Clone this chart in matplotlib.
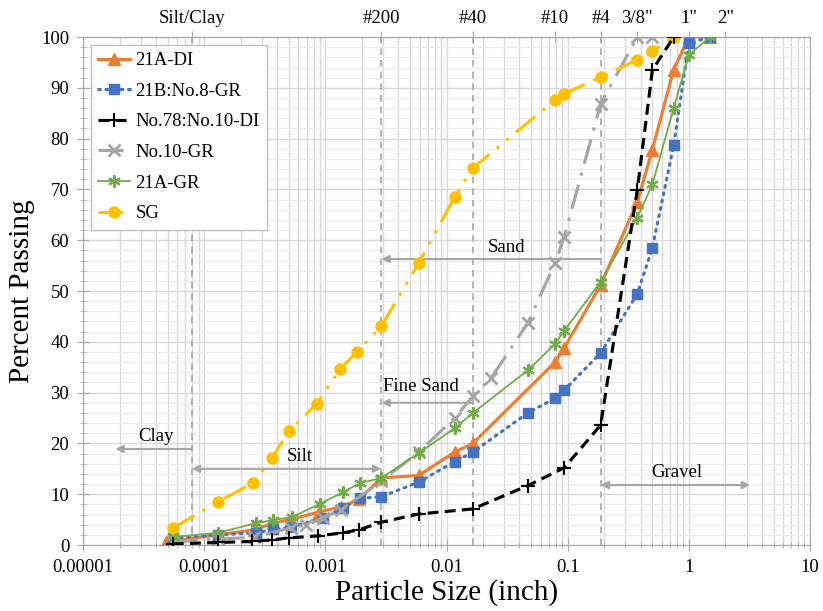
import numpy as np
import matplotlib
matplotlib.use("Agg")
import matplotlib.pyplot as plt

plt.rcParams['font.family'] = ['Liberation Serif', 'DejaVu Serif']

# gradation data: particle size (inch) vs percent passing
size_21a_di = [4.8e-5, 1.3e-4, 2.6e-4, 3.7e-4, 5.2e-4, 8.8e-4, 1.35e-3, 1.9e-3,
               0.0029, 0.0059, 0.0117, 0.0165, 0.0787, 0.0937, 0.187, 0.375, 0.5, 0.75, 1.0, 1.5]
pass_21a_di = [0.6, 2.0, 3.0, 4.3, 5.0, 6.5, 7.5, 9.0,
               13.2, 13.7, 18.3, 20.0, 36.0, 38.8, 51.2, 67.5, 77.8, 93.6, 100, 100]

size_21b = [5.5e-5, 1.3e-4, 2.7e-4, 3.7e-4, 5.2e-4, 9.5e-4, 1.4e-3, 1.95e-3,
            0.0029, 0.0059, 0.0117, 0.0165, 0.0469, 0.0787, 0.0937, 0.187, 0.375, 0.5, 0.75, 1.0, 1.5]
pass_21b = [1.4, 2.0, 2.4, 3.1, 3.5, 5.3, 7.3, 9.2,
            9.5, 12.4, 16.4, 18.3, 26.0, 28.9, 30.5, 37.8, 49.4, 58.5, 78.7, 98.8, 100]

size_no78 = [5.5e-5, 1.3e-4, 2.5e-4, 3.6e-4, 5.0e-4, 8.7e-4, 1.4e-3, 1.9e-3,
             0.0029, 0.0059, 0.0165, 0.0469, 0.0937, 0.187, 0.375, 0.5, 0.75]
pass_no78 = [0.2, 0.5, 0.7, 1.0, 1.4, 1.8, 2.4, 3.0,
             4.5, 6.1, 7.1, 11.7, 15.2, 23.6, 69.8, 93.5, 100]

size_no10 = [5.5e-5, 1.3e-4, 2.6e-4, 5.2e-4, 6.9e-4, 9.5e-4, 1.35e-3,
             0.0029, 0.0059, 0.0117, 0.0165, 0.0234, 0.0469, 0.0787, 0.0937, 0.187, 0.375, 0.5]
pass_no10 = [0.6, 1.2, 1.5, 3.4, 3.9, 5.3, 6.9,
             12.6, 18.3, 25.0, 29.3, 32.9, 43.7, 55.5, 60.7, 86.8, 100, 100]

size_21a_gr = [5.5e-5, 1.3e-4, 2.67e-4, 3.7e-4, 5.3e-4, 9.0e-4, 1.4e-3, 1.93e-3,
               0.0029, 0.0059, 0.0117, 0.0165, 0.0469, 0.0787, 0.0937, 0.187, 0.375, 0.5, 0.75, 1.0, 1.5]
pass_21a_gr = [1.6, 2.4, 4.3, 4.9, 5.5, 8.1, 10.4, 12.2,
               13.2, 18.1, 23.0, 26.0, 34.4, 39.6, 42.2, 51.8, 64.4, 71.0, 86.0, 96.5, 100]

size_sg = [5.5e-5, 1.3e-4, 2.53e-4, 3.62e-4, 5.0e-4, 8.5e-4, 1.32e-3, 1.82e-3,
           0.0029, 0.0059, 0.0117, 0.0165, 0.0787, 0.0937, 0.187, 0.375, 0.5, 0.75]
pass_sg = [3.3, 8.5, 12.2, 17.1, 22.4, 27.8, 34.6, 38.0,
           43.1, 55.5, 68.5, 74.2, 87.6, 88.8, 92.1, 95.5, 97.2, 100]

# bottom axis decades
x_ticks = [1e-5, 1e-4, 1e-3, 1e-2, 1e-1, 1, 10]
x_tick_labels = ['0.00001', '0.0001', '0.001', '0.01', '0.1', '1', '10']

# sieve / boundary sizes shown on the top axis
sieve_sizes = [7.9e-5, 0.0029, 0.0165, 0.0787, 0.187, 0.375, 1.0, 2.0]
sieve_labels = ['Silt/Clay', '#200', '#40', '#10', '#4', '3/8"', '1"', '2"']
boundary_sizes = [7.9e-5, 0.0029, 0.0165, 0.187]

fig = plt.figure(figsize=(8.23, 6.11), dpi=100)
ax = fig.add_axes([0.1009, 0.108, 0.8833, 0.8314])
ax.set_xscale('log')
ax.set_xticks(x_ticks)
ax.set_xticklabels(x_tick_labels)
ax.set_xlim(1e-5, 10)
ax.set_ylim(0, 100)

ax.set_yticks(np.arange(0, 101, 10))
ax.set_yticks(np.arange(0, 101, 2), minor=True)
ax.grid(True, which='major', axis='both', color='#d9d9d9', lw=1.0)
ax.grid(True, which='minor', axis='x', color='#d9d9d9', lw=1.0)
ax.grid(True, which='minor', axis='y', color='#ececec', lw=0.8)
ax.set_axisbelow(True)

for s in ax.spines.values():
    s.set_color('#a6a6a6')
ax.tick_params(which='major', direction='inout', length=8, color='#a6a6a6', labelsize=13.5, pad=6)
ax.tick_params(which='minor', direction='inout', length=4, color='#a6a6a6')

for b in boundary_sizes:
    ax.axvline(b, color='#a6a6a6', lw=1.2, ls=(0, (4, 3)), zorder=1)

ax.plot(size_21a_di, pass_21a_di, color='#ED7D31', lw=2.25, marker='^', ms=8, label='21A-DI', zorder=4)
ax.plot(size_21b, pass_21b, color='#4472C4', lw=2.25, ls=(0, (0.6, 1.8)), dash_capstyle='round',
        marker='s', ms=7, label='21B:No.8-GR', zorder=4)
ax.plot(size_no78, pass_no78, color='black', lw=2.25, ls=(0, (3.5, 2)), marker='+', ms=10, mew=1.5,
        label='No.78:No.10-DI', zorder=5)
ax.plot(size_no10, pass_no10, color='#A5A5A5', lw=2.25, ls=(0, (8, 3, 1, 3)), marker='x', ms=8, mew=2,
        label='No.10-GR', zorder=4)
ax.plot(size_21a_gr, pass_21a_gr, color='#70AD47', lw=1.3, marker=(6, 2, 0), ms=9, mew=1.5,
        label='21A-GR', zorder=4)
ax.plot(size_sg, pass_sg, color='#FFC000', lw=2.25, ls=(0, (8, 3, 1, 3, 1, 3)), marker='o', ms=8,
        label='SG', zorder=4)

# soil class ranges
arrow_kw = dict(color='#a6a6a6', lw=1.5, shrinkA=0, shrinkB=0, mutation_scale=11)
ax.annotate('', xy=(1.85e-5, 18.9), xytext=(7.9e-5, 18.9), arrowprops=dict(arrowstyle='-|>', **arrow_kw))
ax.text(4.0e-5, 21.3, 'Clay', ha='center', va='center', fontsize=13.5)
ax.annotate('', xy=(7.9e-5, 15.0), xytext=(0.0029, 15.0), arrowprops=dict(arrowstyle='<|-|>', **arrow_kw))
ax.text(6.1e-4, 17.4, 'Silt', ha='center', va='center', fontsize=13.5)
ax.annotate('', xy=(0.0029, 28.0), xytext=(0.0165, 28.0), arrowprops=dict(arrowstyle='-|>', **arrow_kw))
ax.text(0.0062, 31.2, 'Fine Sand', ha='center', va='center', fontsize=13.5)
ax.annotate('', xy=(0.0029, 56.3), xytext=(0.187, 56.3), arrowprops=dict(arrowstyle='-|>', **arrow_kw))
ax.text(0.031, 58.5, 'Sand', ha='center', va='center', fontsize=13.5)
ax.annotate('', xy=(0.187, 11.8), xytext=(3.2, 11.8), arrowprops=dict(arrowstyle='<|-|>', **arrow_kw))
ax.text(0.8, 14.2, 'Gravel', ha='center', va='center', fontsize=13.5)

top = ax.secondary_xaxis('top')
top.set_xticks(sieve_sizes)
top.set_xticklabels(sieve_labels)
top.xaxis.set_minor_locator(matplotlib.ticker.NullLocator())
top.tick_params(direction='inout', length=8, color='#a6a6a6', labelsize=13.5, pad=3)
top.spines['top'].set_color('#a6a6a6')

ax.set_xlabel('Particle Size (inch)', fontsize=21, labelpad=2)
ax.set_ylabel('Percent Passing', fontsize=21, labelpad=4)

leg = ax.legend(loc='upper left', fontsize=13.5, fancybox=False, framealpha=1, edgecolor='#bfbfbf',
                handlelength=1.7, labelspacing=0.72, borderaxespad=0.4, handletextpad=0.3)
leg.get_frame().set_linewidth(1.0)

fig.savefig('out.png', dpi=100)
